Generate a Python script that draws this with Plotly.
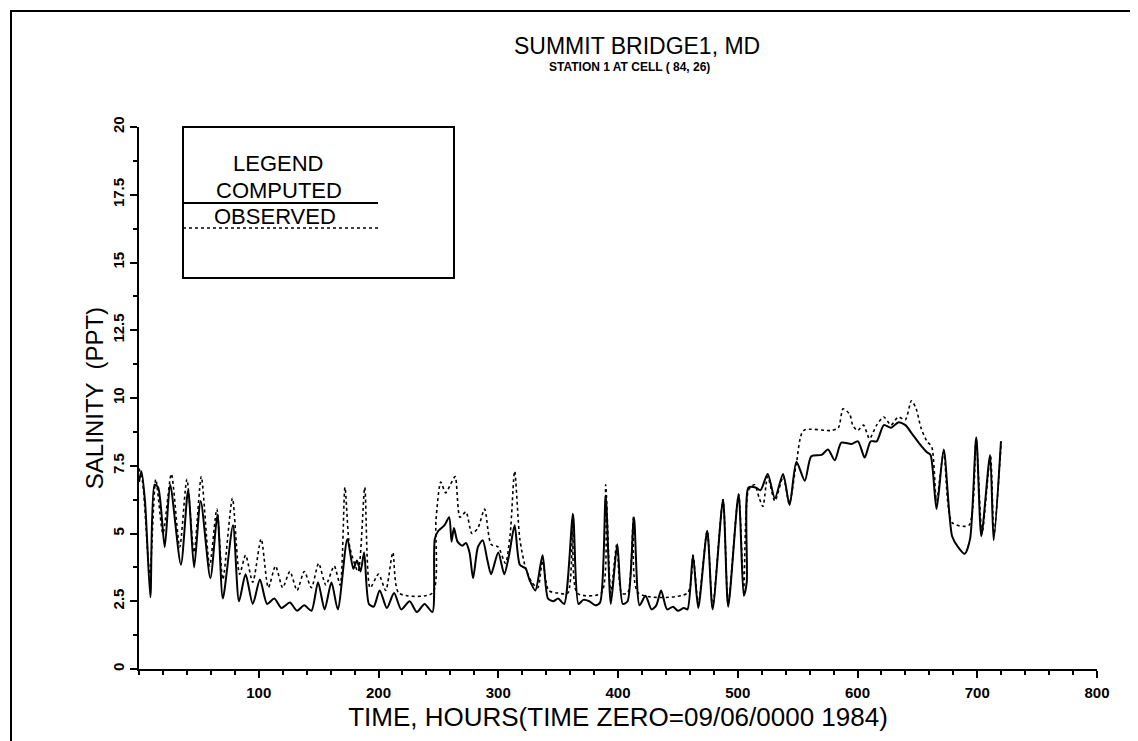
import plotly.graph_objects as go

# ---------------- data ----------------
comp_t = [0, 2, 5, 9.5, 13, 16, 21.5, 26, 35, 41, 46, 51.5, 59.6, 65.5, 70, 78.5, 83.5, 89,
          95, 101, 107, 113, 119, 126, 132, 138, 144, 149.5, 155, 160.7, 166, 174, 179, 182,
          185, 188, 192, 196, 201, 207, 213, 219, 226, 232, 238.5, 245, 247, 250, 255, 259,
          261, 263, 266, 270, 273, 276, 279, 283, 287, 291, 294, 300, 305, 309, 313.7, 318,
          323, 326, 331, 337, 341.5, 346, 350, 355, 362.4, 367, 371, 376, 381, 385, 389.7,
          394, 399.4, 404, 408, 413.3, 418, 423, 428, 432, 436, 441, 446, 450, 455, 458,
          462.6, 467, 474.5, 479, 487.7, 492, 500.7, 505, 507.5, 509, 515, 519, 525, 531,
          537.8, 543.3, 549, 556, 561.4, 570, 575.4, 581, 586.5, 595, 600.4, 606, 611, 616,
          622, 628, 634, 640, 646, 652, 658, 661, 666, 672, 679, 684, 689.6, 694, 699.2,
          703.4, 710.7, 713.7, 719.8]
comp_v = [6.9, 7.3, 6.2, 2.65, 6.8, 6.7, 4.5, 6.8, 3.85, 6.6, 3.75, 6.2, 3.35, 5.7, 2.6, 5.3, 2.5, 3.5,
          2.4, 3.3, 2.4, 2.6, 2.25, 2.45, 2.15, 2.35, 2.15, 3.2, 2.2, 3.2, 2.2, 4.8, 3.7, 4.0,
          3.6, 4.3, 2.4, 2.3, 2.9, 2.25, 2.8, 2.2, 2.5, 2.1, 2.4, 2.1, 4.8, 5.1, 5.3, 5.6,
          4.7, 5.2, 4.7, 4.55, 4.65, 4.3, 3.35, 4.5, 4.75, 4.0, 3.5, 4.3, 3.5, 4.2, 5.3, 3.85,
          3.7, 3.3, 2.9, 4.2, 2.6, 2.5, 2.6, 2.4, 5.7, 2.4, 2.55, 2.5, 2.35, 2.45, 6.4,
          2.4, 4.6, 2.4, 2.5, 5.6, 2.35, 2.7, 2.2, 2.35, 2.9, 2.2, 2.3, 2.15, 2.25, 2.2,
          4.2, 2.25, 5.1, 2.2, 6.25, 2.3, 6.45, 2.7, 3.2, 6.7, 6.7, 6.6, 7.2, 6.3,
          7.2, 6.05, 7.65, 6.95, 7.85, 7.9, 8.1, 7.7, 8.35, 8.3, 8.4, 7.8, 8.4, 8.4,
          9.0, 8.9, 9.1, 9.0, 8.65, 8.3, 8.0, 7.9, 5.9, 8.1, 4.9, 4.5, 4.25, 4.8, 8.55,
          4.9, 7.9, 4.75, 8.4]

obs_t = [0, 3, 9, 14, 20, 27, 34, 40, 46, 52, 59, 65, 70, 78, 84, 89, 95, 102, 108, 114, 120,
         126, 132, 138, 144, 150, 156, 163, 168, 172, 176, 183, 188.5, 193, 200, 206, 212, 217,
         245, 248, 252, 256, 260, 264, 268, 273, 278, 283, 288.6, 294, 300, 306, 310, 313.7,
         318, 323, 328, 333, 337, 342, 350, 358, 362.4, 366, 386, 389.7, 394, 399, 403, 408,
         413, 417, 458, 462.6, 467, 474.5, 479, 487.7, 492, 500.7, 505, 509, 514, 518, 521,
         525, 531, 538, 543, 549, 555, 578, 584, 588, 593.5, 596, 600, 605, 610, 616, 622,
         628, 634, 640, 645, 649, 653, 658, 662, 666, 672, 679, 693, 699, 704, 711, 714, 720]
obs_v = [7.4, 6.9, 3.5, 7.0, 5.0, 7.2, 4.5, 7.0, 4.3, 7.1, 3.8, 5.9, 3.3, 6.3, 3.5, 4.2, 3.2, 4.8, 3.0, 3.8, 3.0,
         3.6, 2.9, 3.6, 3.0, 3.9, 3.1, 3.8, 3.1, 6.7, 4.5, 3.6, 6.7, 3.0, 3.5, 2.9, 4.3, 2.8,
         2.8, 5.5, 6.9, 6.5, 6.8, 7.1, 5.6, 5.8, 5.0, 5.2, 5.9, 4.6, 4.5, 3.9, 5.0, 7.3,
         4.8, 3.7, 3.2, 3.0, 4.0, 2.9, 2.8, 2.8, 5.75, 2.8, 2.8, 6.8, 2.8, 4.6, 2.8, 2.8,
         5.6, 2.8, 2.8, 4.2, 2.4, 5.1, 2.3, 6.25, 2.4, 6.45, 3.0, 6.6, 6.8, 6.3, 6.0,
         7.1, 6.2, 7.1, 6.1, 7.6, 8.8, 8.8, 8.9, 9.6, 9.4, 9.0, 8.8, 9.0, 8.5, 9.0, 9.3,
         9.0, 9.3, 9.2, 9.9, 9.6, 8.9, 8.4, 8.2, 6.2, 8.0, 5.4, 5.3, 8.5, 5.0, 7.9, 5.0, 8.4]

x_ticks = [100, 200, 300, 400, 500, 600, 700, 800]
y_ticks = [0, 2.5, 5, 7.5, 10, 12.5, 15, 17.5, 20]
y_tick_text = ["0", "2.5", "5", "7.5", "10", "12.5", "15", "17.5", "20"]

title_main = "SUMMIT BRIDGE1, MD"
title_sub = "STATION 1 AT CELL ( 84, 26)"
x_title = "TIME, HOURS(TIME ZERO=09/06/0000 1984)"
y_title = "SALINITY  (PPT)"
legend_head = "LEGEND"
legend_items = ["COMPUTED", "OBSERVED"]

# ---------------- geometry ----------------
W, H = 1138, 741
L, R, T, B = 131, 49, 119, 80
PW, PH = W - L - R, H - T - B


def px(xp):
    return (xp - L) / PW


def py(yp):
    return (H - B - yp) / PH


FONT = "Liberation Sans, Arial, sans-serif"

fig = go.Figure()
fig.add_trace(go.Scatter(x=obs_t, y=obs_v, mode="lines", name=legend_items[1],
                         line=dict(color="black", width=1.6, dash="3px,3px",
                                   shape="spline", smoothing=0.7)))
fig.add_trace(go.Scatter(x=comp_t, y=comp_v, mode="lines", name=legend_items[0],
                         line=dict(color="black", width=2, shape="spline", smoothing=0.7)))

fig.update_layout(
    width=W, height=H,
    margin=dict(l=L, r=R, t=T, b=B, autoexpand=False),
    paper_bgcolor="white", plot_bgcolor="white",
    font=dict(family=FONT, color="black"),
    showlegend=False,
    xaxis=dict(range=[0, 800], showline=True, linecolor="black", linewidth=2,
               ticks="outside", ticklen=7, tickwidth=2, tickcolor="black",
               tickvals=x_ticks, ticktext=[str(v) for v in x_ticks],
               tickfont=dict(size=15, weight="bold", family=FONT),
               ticklabelstandoff=2,
               minor=dict(tick0=0, dtick=20, ticks="outside", ticklen=4, tickwidth=1.5,
                          tickcolor="black", showgrid=False),
               showgrid=False, zeroline=False,
               title=dict(text=x_title, font=dict(size=26, family=FONT), standoff=8)),
    yaxis=dict(range=[0, 20], showline=True, linecolor="black", linewidth=2,
               ticks="outside", ticklen=7, tickwidth=2, tickcolor="black",
               tickvals=y_ticks, ticktext=y_tick_text, tickangle=-90,
               tickfont=dict(size=15, weight="bold", family=FONT),
               minor=dict(tick0=0, dtick=1.25, ticks="outside", ticklen=4, tickwidth=1.5,
                          tickcolor="black", showgrid=False),
               showgrid=False, zeroline=False,
               title=dict(text=y_title, font=dict(size=24, family=FONT), standoff=0)),
)

shapes = [
    # outer frame of the page
    dict(type="rect", xref="paper", yref="paper", x0=px(3), x1=px(1135), y0=py(736), y1=py(3),
         line=dict(color="black", width=2), fillcolor="rgba(0,0,0,0)"),
    # legend box
    dict(type="rect", xref="paper", yref="paper", x0=px(175), x1=px(446), y0=py(270), y1=py(119),
         line=dict(color="black", width=2), fillcolor="white"),
    # legend sample lines
    dict(type="line", xref="paper", yref="paper", x0=px(175), x1=px(370), y0=py(195), y1=py(195),
         line=dict(color="black", width=2)),
    dict(type="line", xref="paper", yref="paper", x0=px(175), x1=px(370), y0=py(220), y1=py(220),
         line=dict(color="black", width=1.6, dash="3px,3px")),
]
fig.update_layout(shapes=shapes)

ann = [
    dict(text=title_main, x=px(629), y=py(38), font=dict(size=23, family=FONT)),
    dict(text=title_sub, x=px(621), y=py(59), font=dict(size=12, family=FONT, weight="bold")),
    dict(text=legend_head, x=px(270), y=py(155), font=dict(size=22, family=FONT)),
    dict(text=legend_items[0], x=px(271), y=py(182), font=dict(size=22, family=FONT)),
    dict(text=legend_items[1], x=px(267), y=py(208), font=dict(size=22, family=FONT)),
]
for a in ann:
    a.update(xref="paper", yref="paper", showarrow=False, xanchor="center", yanchor="middle")
fig.update_layout(annotations=ann)

fig.write_html("out.html")
